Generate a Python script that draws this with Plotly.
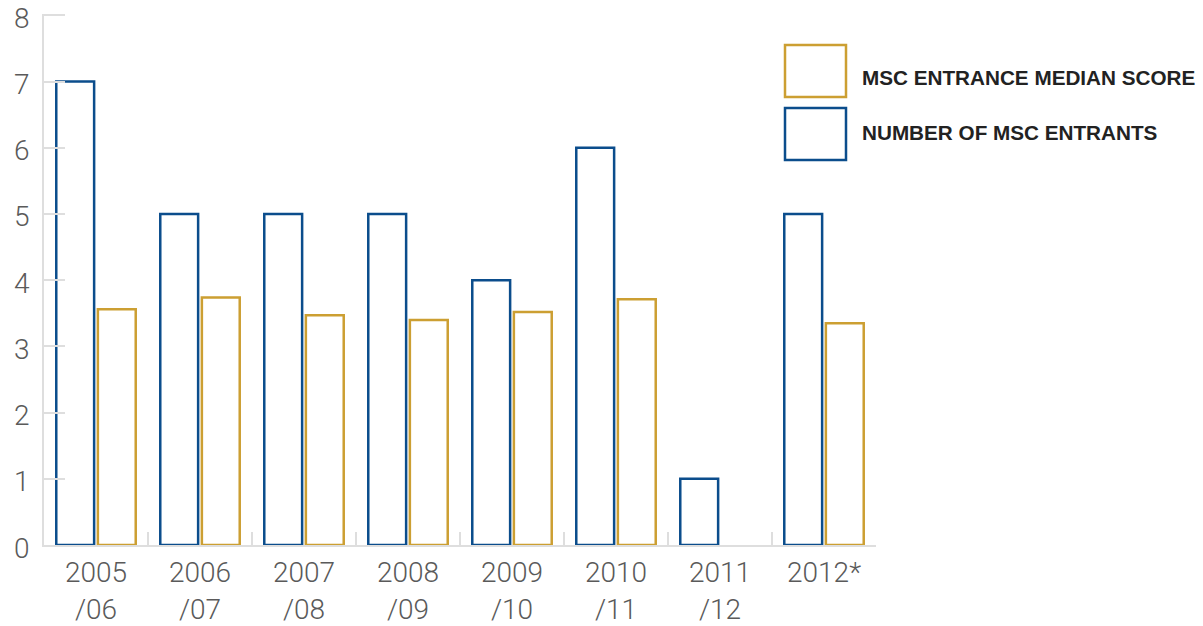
import plotly.graph_objects as go

# Academic years on the category axis (two-line labels)
years = ["2005<br>/06", "2006<br>/07", "2007<br>/08", "2008<br>/09",
         "2009<br>/10", "2010<br>/11", "2011<br>/12", "2012*"]

# Number of MSc entrants per year
entrants = [7, 5, 5, 5, 4, 6, 1, 5]

# MSc entrance median score per year (no score for 2011/12)
median_score = [3.56, 3.74, 3.47, 3.40, 3.52, 3.71, None, 3.35]

y_ticks = list(range(0, 9))

BLUE = "#0b4d8c"
GOLD = "#cc9f32"
GRID = "#dedede"
TICK_FONT = dict(family="Roboto", size=28, color="#5a5a5a", weight=300)

fig = go.Figure()
fig.add_trace(go.Bar(
    x=years, y=entrants, name="NUMBER OF MSC ENTRANTS",
    marker=dict(color="rgba(255,255,255,0)", line=dict(color=BLUE, width=2.5)),
))
fig.add_trace(go.Bar(
    x=years, y=median_score, name="MSC ENTRANCE MEDIAN SCORE",
    marker=dict(color="rgba(255,255,255,0)", line=dict(color=GOLD, width=2.5)),
))

# Plot area in pixels, used to place the legend and labels in paper units
L, R, T, B = 44, 876, 14, 545


def px_x(x):
    return (x - L) / (R - L)


def px_y(y):
    return (B - y) / (B - T)


# Y value labels, set slightly below their tick marks
for v in y_ticks:
    fig.add_annotation(
        xref="paper", yref="y", x=px_x(32), y=v, yshift=-3,
        xanchor="right", yanchor="middle", showarrow=False,
        text=str(v), font=TICK_FONT,
    )

# Legend drawn as outlined boxes with bold captions
legend_items = [
    ("MSC ENTRANCE MEDIAN SCORE", GOLD, 45, 97, 77),
    ("NUMBER OF MSC ENTRANTS", BLUE, 108, 160, 132),
]
for label, color, top, bottom, text_y in legend_items:
    fig.add_shape(
        type="rect", xref="paper", yref="paper",
        x0=px_x(785), x1=px_x(846), y0=px_y(bottom), y1=px_y(top),
        line=dict(color=color, width=2.5), fillcolor="rgba(0,0,0,0)",
    )
    fig.add_annotation(
        xref="paper", yref="paper",
        x=px_x(860), y=px_y(text_y),
        xanchor="left", yanchor="middle", showarrow=False,
        text="<b>" + label + "</b>",
        font=dict(family="Liberation Sans", size=20.7, color="#222222"),
    )

fig.update_layout(
    width=1203, height=626,
    margin=dict(l=L, r=1203 - R, t=T, b=626 - B),
    paper_bgcolor="white", plot_bgcolor="white",
    barmode="group", bargap=0.2, bargroupgap=0.09,
    showlegend=False,
    xaxis=dict(
        automargin=False,
        showgrid=False, showline=True, linecolor=GRID, linewidth=1.5,
        ticks="inside", tickson="boundaries", ticklen=13, tickcolor=GRID,
        tickwidth=1.5, ticklabelstandoff=2, ticklabeloverflow="allow",
        tickfont=TICK_FONT,
    ),
    yaxis=dict(
        automargin=False,
        range=[0, 8.02], tickmode="array", tickvals=y_ticks,
        showgrid=False, zeroline=False, showticklabels=False,
        showline=True, linecolor=GRID, linewidth=1.5,
        ticks="inside", ticklen=21, tickcolor=GRID, tickwidth=1.5,
    ),
)

fig.write_html("out.html")
